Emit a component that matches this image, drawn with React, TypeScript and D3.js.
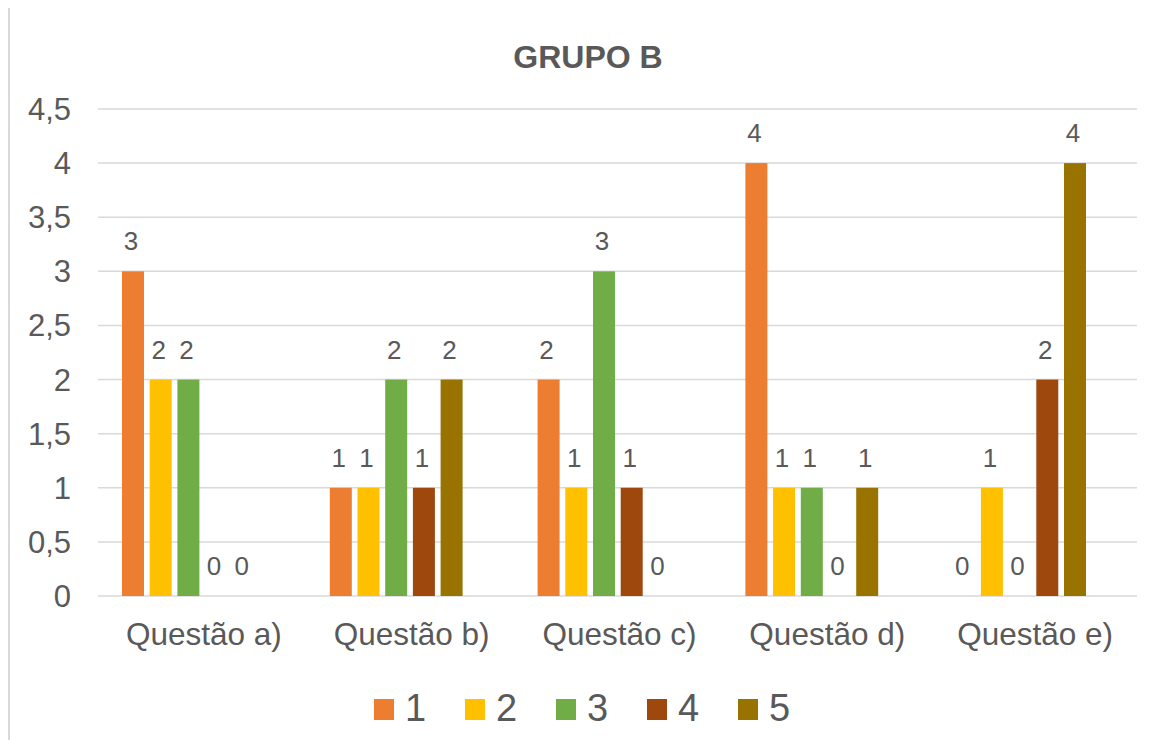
import React from "react";
import * as d3 from "d3";

// dados do gráfico
const categories = ["Questão a)", "Questão b)", "Questão c)", "Questão d)", "Questão e)"];
const seriesNames = ["1", "2", "3", "4", "5"];
const serie1 = [3, 1, 2, 4, 0];
const serie2 = [2, 1, 1, 1, 1];
const serie3 = [2, 2, 3, 1, 0];
const serie4 = [0, 1, 1, 0, 2];
const serie5 = [0, 2, 0, 1, 4];
const yTicks = [0, 0.5, 1, 1.5, 2, 2.5, 3, 3.5, 4, 4.5];
const colors = ["#ED7D31", "#FFC000", "#70AD47", "#9E480E", "#997300"];

const allSeries = [serie1, serie2, serie3, serie4, serie5];

const width = 1161;
const height = 740;
const left = 98;
const right = 1137;
const top = 109;
const bottom = 596;
const textColor = "#595959";
const font = "'Liberation Sans', Arial, sans-serif";

const fmt = (v: number) => String(v).replace(".", ",");

export default function App() {
  const xScale = d3.scaleBand().domain(categories).range([left, right]);
  // barras deslocadas para a esquerda dentro de cada categoria
  const inner = d3
    .scaleBand()
    .domain(seriesNames)
    .range([24, 156.8])
    .paddingInner(0.206);
  const yScale = d3.scaleLinear().domain([0, 4.5]).range([bottom, top]);

  return (
    <svg
      width={width}
      height={height}
      style={{ position: "absolute", left: 0, top: 0, background: "#fff" }}
    >
      <rect x={0} y={0} width={width} height={height} fill="#fff" />
      <line x1={9} x2={9} y1={8} y2={height} stroke="#d9d9d9" strokeWidth={2} />

      <text
        x={588}
        y={68}
        textAnchor="middle"
        fontFamily={font}
        fontWeight="bold"
        fontSize={32}
        fill={textColor}
      >
        GRUPO B
      </text>

      {/* grade e eixo y */}
      {yTicks.map((t) => (
        <g key={t}>
          <line
            x1={left}
            x2={right}
            y1={yScale(t)}
            y2={yScale(t)}
            stroke="#d9d9d9"
            strokeWidth={1.5}
          />
          <text
            x={71}
            y={yScale(t) + 11}
            textAnchor="end"
            fontFamily={font}
            fontSize={31}
            fill={textColor}
          >
            {fmt(t)}
          </text>
        </g>
      ))}

      {/* barras */}
      {categories.map((c, ci) => (
        <g key={c} transform={`translate(${xScale(c)},0)`}>
          {allSeries.map((s, si) => {
            const x = inner(seriesNames[si]) as number;
            const v = s[ci];
            return (
              <g key={si}>
                {v > 0 && (
                  <rect
                    x={x}
                    y={yScale(v)}
                    width={inner.bandwidth()}
                    height={yScale(0) - yScale(v)}
                    fill={colors[si]}
                  />
                )}
                <text
                  x={x + inner.bandwidth() / 2 - 2}
                  y={yScale(v) - 21}
                  textAnchor="middle"
                  fontFamily={font}
                  fontSize={26}
                  fill={textColor}
                >
                  {v}
                </text>
              </g>
            );
          })}
          <text
            x={xScale.bandwidth() / 2 + 2}
            y={645}
            textAnchor="middle"
            fontFamily={font}
            fontSize={31.5}
            fill={textColor}
          >
            {c}
          </text>
        </g>
      ))}

      {/* legenda */}
      {seriesNames.map((n, i) => (
        <g key={n} transform={`translate(${374 + i * 91},699)`}>
          <rect x={0} y={0} width={20} height={21} fill={colors[i]} />
          <text
            x={31}
            y={22}
            fontFamily={font}
            fontSize={38}
            fill={textColor}
          >
            {n}
          </text>
        </g>
      ))}
    </svg>
  );
}
